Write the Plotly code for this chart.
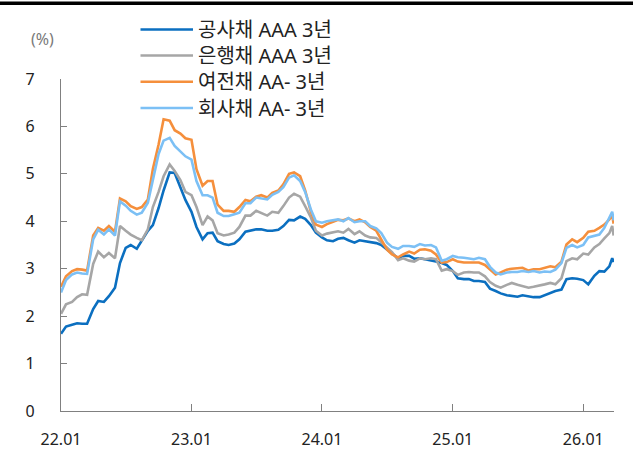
import pandas as pd
import plotly.graph_objects as go

# Semi-monthly observation dates (1st and 15th) plus the last two prints of Mar 2026
dates = list(pd.date_range("2022-01-01", "2026-03-15", freq="SMS").strftime("%Y-%m-%d"))
dates += ["2026-03-23", "2026-03-27"]

# 3-year yields (%)
kepco_aaa = [
    1.63, 1.78, 1.82, 1.85, 1.84, 1.84, 2.15, 2.32, 2.30, 2.42, 2.60, 3.12,
    3.44, 3.50, 3.42, 3.60, 3.80, 3.92, 4.28, 4.65, 5.03, 5.02, 4.72, 4.45,
    4.20, 3.88, 3.62, 3.75, 3.76, 3.58, 3.52, 3.50, 3.53, 3.62, 3.78, 3.80,
    3.83, 3.83, 3.80, 3.80, 3.82, 3.90, 4.03, 4.02, 4.10, 4.05, 3.92, 3.76,
    3.66, 3.60, 3.58, 3.63, 3.65, 3.60, 3.55, 3.60, 3.58, 3.55, 3.54, 3.50,
    3.40, 3.33, 3.22, 3.27, 3.27, 3.21, 3.22, 3.20, 3.18, 3.15, 3.12, 3.08,
    2.95, 2.80, 2.78, 2.78, 2.74, 2.74, 2.72, 2.58, 2.53, 2.48, 2.44, 2.42,
    2.41, 2.44, 2.41, 2.40, 2.40, 2.44, 2.49, 2.53, 2.56, 2.78, 2.80, 2.79,
    2.76, 2.67, 2.85, 2.95, 2.94, 3.05, 3.22, 3.14,
]
bank_aaa = [
    2.05, 2.25, 2.30, 2.40, 2.46, 2.45, 3.10, 3.36, 3.24, 3.33, 3.22, 3.90,
    3.80, 3.72, 3.65, 3.60, 3.83, 4.30, 4.62, 4.95, 5.20, 5.06, 4.87, 4.62,
    4.55, 4.30, 3.92, 4.10, 4.02, 3.75, 3.70, 3.72, 3.76, 3.88, 4.12, 4.12,
    4.22, 4.18, 4.12, 4.20, 4.18, 4.32, 4.50, 4.58, 4.52, 4.32, 4.08, 3.80,
    3.70, 3.74, 3.76, 3.79, 3.76, 3.84, 3.73, 3.79, 3.70, 3.66, 3.65, 3.55,
    3.43, 3.35, 3.18, 3.22, 3.17, 3.15, 3.22, 3.20, 3.22, 3.20, 2.96, 2.99,
    2.95, 2.87, 2.92, 2.93, 2.92, 2.92, 2.84, 2.72, 2.64, 2.60, 2.66, 2.70,
    2.66, 2.63, 2.60, 2.62, 2.64, 2.67, 2.70, 2.67, 2.80, 3.16, 3.22, 3.20,
    3.32, 3.30, 3.45, 3.52, 3.64, 3.75, 3.90, 3.70,
]
card_aa = [
    2.62, 2.84, 2.95, 2.99, 2.98, 2.96, 3.70, 3.86, 3.80, 3.90, 3.78, 4.48,
    4.42, 4.32, 4.26, 4.30, 4.46, 5.10, 5.62, 6.15, 6.12, 5.92, 5.85, 5.75,
    5.72, 5.10, 4.75, 4.85, 4.85, 4.35, 4.22, 4.22, 4.20, 4.30, 4.45, 4.42,
    4.52, 4.55, 4.50, 4.60, 4.65, 4.78, 5.00, 5.03, 4.95, 4.65, 4.20, 3.93,
    3.88, 3.94, 3.99, 4.03, 4.02, 4.06, 4.00, 4.04, 3.98, 3.88, 3.80, 3.60,
    3.40, 3.30, 3.24, 3.30, 3.36, 3.32, 3.40, 3.41, 3.38, 3.30, 3.13, 3.14,
    3.20, 3.15, 3.13, 3.13, 3.13, 3.13, 3.08, 2.98, 2.88, 2.92, 2.98, 3.00,
    3.01, 3.02, 2.96, 2.99, 2.99, 3.02, 3.05, 3.03, 3.15, 3.51, 3.62, 3.56,
    3.65, 3.78, 3.80, 3.86, 3.93, 4.04, 4.12, 3.95,
]
corp_aa = [
    2.50, 2.76, 2.88, 2.92, 2.90, 2.89, 3.62, 3.82, 3.72, 3.83, 3.70, 4.42,
    4.33, 4.22, 4.14, 4.18, 4.39, 4.85, 5.42, 5.70, 5.76, 5.59, 5.47, 5.37,
    5.30, 4.85, 4.55, 4.55, 4.50, 4.18, 4.11, 4.11, 4.15, 4.18, 4.38, 4.38,
    4.50, 4.48, 4.46, 4.56, 4.62, 4.72, 4.92, 4.97, 4.85, 4.62, 4.25, 4.00,
    3.97, 4.00, 4.02, 4.04, 4.00, 4.07, 3.98, 4.00, 4.00, 3.90, 3.85, 3.75,
    3.55, 3.46, 3.42, 3.48, 3.48, 3.46, 3.52, 3.49, 3.50, 3.45, 3.17, 3.20,
    3.27, 3.24, 3.23, 3.22, 3.20, 3.23, 3.20, 3.04, 2.92, 2.88, 2.92, 2.93,
    2.93, 2.95, 2.93, 2.95, 2.92, 2.94, 2.93, 2.98, 3.12, 3.44, 3.50, 3.45,
    3.50, 3.66, 3.70, 3.72, 3.86, 4.10, 4.20, 4.02,
]

series_names = ["공사채 AAA 3년", "은행채 AAA 3년", "여전채 AA- 3년", "회사채 AA- 3년"]
series_values = [kepco_aaa, bank_aaa, card_aa, corp_aa]
series_colors = ["#0B6FC0", "#A6A6A6", "#F58F3C", "#7CC0F5"]

tick_dates = ["2022-01-01", "2023-01-01", "2024-01-01", "2025-01-01", "2026-01-01"]
tick_labels = ["22.01", "23.01", "24.01", "25.01", "26.01"]

W, H = 633, 456
ML, MR, MT, MB = 61, 19, 79, 45
PW, PH = W - ML - MR, H - MT - MB


def px_x(x):
    return (x - ML) / PW


def px_y(y):
    return (H - MB - y) / PH


fig = go.Figure()
for name, vals, col in zip(series_names, series_values, series_colors):
    fig.add_trace(go.Scatter(
        x=dates, y=vals, name=name, mode="lines",
        line=dict(color=col, width=2.6), showlegend=False,
    ))

axis_col = "#808080"
fig.update_layout(
    width=W, height=H,
    margin=dict(l=ML, r=MR, t=MT, b=MB, autoexpand=False),
    paper_bgcolor="white", plot_bgcolor="white",
    font=dict(family="Noto Sans, Noto Sans CJK KR", size=16, color="#222222"),
    xaxis=dict(
        type="date", range=["2022-01-01", "2026-03-28"],
        tickvals=tick_dates, ticktext=tick_labels,
        ticks="inside", ticklen=7, tickcolor=axis_col, tickwidth=1.2,
        showline=True, linecolor=axis_col, linewidth=1.3,
        showgrid=False, zeroline=False, ticklabelstandoff=14,
        automargin=False,
    ),
    yaxis=dict(
        range=[0, 7], dtick=1, tick0=0,
        ticks="inside", ticklen=6, tickcolor=axis_col, tickwidth=1.2,
        showline=True, linecolor=axis_col, linewidth=1.3,
        showgrid=False, zeroline=False, ticklabelstandoff=22,
        automargin=False,
    ),
)

shapes = [
    # heavy rule across the top of the page
    dict(type="line", xref="paper", yref="paper",
         x0=px_x(0), x1=px_x(W), y0=px_y(3.3), y1=px_y(3.3),
         line=dict(color="black", width=3.5)),
]
annotations = [
    dict(text="(%)", xref="paper", yref="paper", x=px_x(42), y=px_y(39),
         xanchor="center", yanchor="middle", showarrow=False,
         font=dict(size=16, color="#7a7a7a")),
]

# legend drawn as stacked rows
legend_rows = [29.5, 55.5, 81.7, 108.0]
for name, col, ry in zip(series_names, series_colors, legend_rows):
    shapes.append(dict(type="line", xref="paper", yref="paper",
                       x0=px_x(140.5), x1=px_x(193), y0=px_y(ry), y1=px_y(ry),
                       line=dict(color=col, width=2.6)))
    annotations.append(dict(text=name, xref="paper", yref="paper",
                            x=px_x(196), y=px_y(ry), xanchor="left", yanchor="middle",
                            showarrow=False, font=dict(size=20, color="#222222")))

fig.update_layout(shapes=shapes, annotations=annotations)
fig.write_html("out.html")
